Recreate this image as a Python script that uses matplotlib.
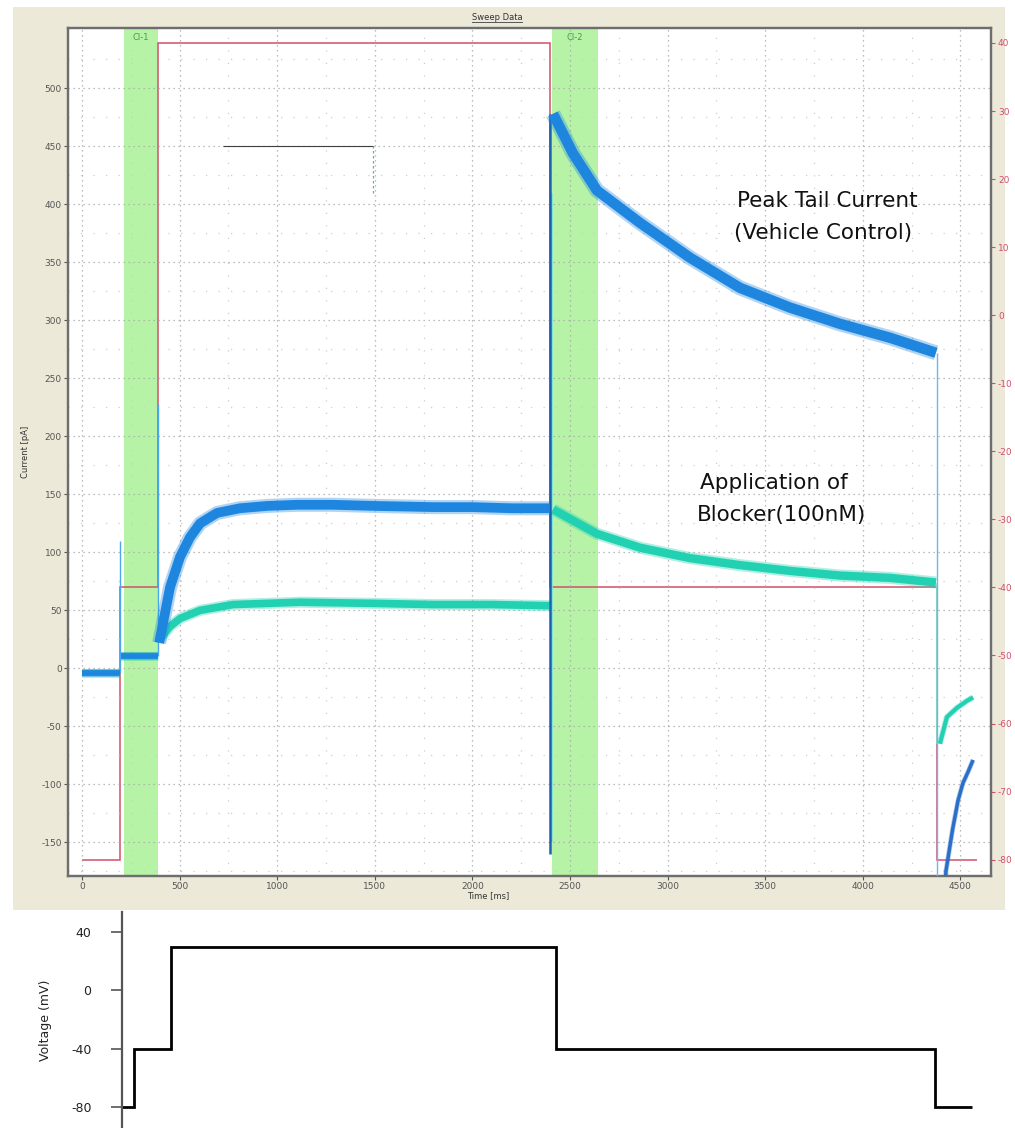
import matplotlib
matplotlib.use("Agg")
import matplotlib.pyplot as plt
from matplotlib.patches import Rectangle
from matplotlib.lines import Line2D

plt.rcParams["axes.unicode_minus"] = False

# ---------------- data ----------------
# command protocol (ms / mV) shown on the right axis
step_edges_ms = [0, 195, 390, 2400, 4380, 4585]
step_levels_mV = [-80, -40, 40, -40, -80]

# cursor windows
cursor_names = ["Cl-1", "Cl-2"]
cursor_start_ms = [215, 2408]
cursor_end_ms = [389, 2643]

# vehicle control current (pA)
veh_pre_t = [0, 195]
veh_pre = [-4, -4]
veh_step_t = [197, 390]
veh_step = [11, 11]
veh_act_t = [395, 451, 502, 553, 605, 692, 809, 948, 1100, 1286, 1500, 1798, 2000, 2200, 2395]
veh_act = [22, 70, 96, 113, 125, 134, 138, 140, 141, 141, 140, 139, 139, 138, 138]
veh_tail_t = [2413, 2515, 2638, 2859, 3115, 3371, 3627, 3883, 4139, 4375]
veh_tail = [478, 444, 412, 384, 354, 328, 311, 297, 285, 272]
veh_post_t = [4390, 4426, 4460, 4488, 4513, 4540, 4565]
veh_post = [-330, -175, -139, -114, -99, -89, -79]
veh_spike_t = [195, 390, 2400, 4380]
veh_spike_lo = [-4, 11, -160, -330]
veh_spike_hi = [110, 228, 478, 272]

# blocker (100 nM) current (pA)
blk_act_t = [395, 450, 502, 605, 774, 1117, 1500, 1798, 2100, 2395]
blk_act = [24, 36, 43, 50, 55, 57, 56, 55, 55, 54]
blk_tail_t = [2413, 2638, 2859, 3115, 3371, 3627, 3883, 4139, 4375]
blk_tail = [137, 116, 104, 95, 89, 84, 80, 78, 74]
blk_post_t = [4395, 4431, 4483, 4534, 4565]
blk_post = [-65, -42, -34, -28, -25]
blk_spike_t = [2410, 4382]
blk_spike_lo = [-150, -65]
blk_spike_hi = [410, 74]

# measurement cursor line
cursor_line_ms = [720, 1490]
cursor_line_pA = 450
cursor_drop_pA = [450, 410]

# schematic voltage protocol (lower panel)
proto_edges_ms = [132, 195, 390, 2400, 4380, 4575]
proto_levels_mV = [-80, -40, 30, -40, -80]
proto_ticks = [40, 0, -40, -80]

x_ticks = list(range(0, 5000, 500))
y_ticks = list(range(-150, 550, 50))
r_ticks = list(range(-80, 50, 10))

# ---------------- figure ----------------
W, H = 1015, 1128
fig = plt.figure(figsize=(W / 100, H / 100), dpi=100)
fig.patch.set_facecolor("white")
fig.patches.append(Rectangle((13 / W, 1 - 910 / H), 992 / W, 903 / H,
                             transform=fig.transFigure, facecolor="#ECE9D8",
                             edgecolor="none", zorder=-5))

BLUE = "#1f86e0"
TEAL = "#22d1b1"
RED = "#d2506a"
GREEN = "#b6f3a6"

ax = fig.add_axes([68 / W, (H - 876) / H, 923 / W, 848 / H])
axr = ax.twinx()
ax.set_zorder(axr.get_zorder() + 1)
ax.patch.set_visible(False)
axr.patch.set_visible(True)
axr.patch.set_facecolor("white")

# cursor windows and command voltage (behind the traces)
for name, a, b in zip(cursor_names, cursor_start_ms, cursor_end_ms):
    axr.axvspan(a, b, color=GREEN, lw=0, zorder=1)
    axr.text((a + b) / 2, 41.5, name, ha="center", va="top", fontsize=6,
             color="#4a9a4a", zorder=2)
axr.stairs(step_levels_mV, step_edges_ms, baseline=None, color=RED, lw=1.1, zorder=3)

# grid
ax.set_xticks(x_ticks)
ax.set_yticks(y_ticks)
ax.set_xticks(list(range(-250, 4700, 250)), minor=True)
ax.set_yticks(list(range(-175, 550, 25)), minor=True)
ax.grid(which="major", color="#a8a8a8", linestyle=(0, (1, 3)), lw=0.9)
ax.grid(which="minor", color="#cccccc", linestyle=(0, (1, 9)), lw=0.9)
ax.tick_params(which="minor", length=0)


def trace(t, y, color, lw, z):
    """Draw a recorded sweep as a band with a soft, noisy-looking edge."""
    kw = dict(solid_capstyle="butt", solid_joinstyle="round", zorder=z)
    ax.plot(t, y, color=color, lw=lw * 1.45, alpha=0.35, **kw)
    ax.plot(t, y, color=color, lw=lw, **kw)


# traces: blocker first, vehicle on top
ax.vlines(blk_spike_t, blk_spike_lo, blk_spike_hi, color="#7fe3cf", lw=1.2, zorder=4)
trace(veh_pre_t, veh_pre, TEAL, 4.5, 4)
trace(veh_step_t, veh_step, TEAL, 4.5, 4)
trace(blk_act_t, blk_act, TEAL, 5.5, 4)
trace(blk_tail_t, blk_tail, TEAL, 6.0, 4)
trace(blk_post_t, blk_post, TEAL, 3.0, 4)

ax.vlines(veh_spike_t[:2], veh_spike_lo[:2], veh_spike_hi[:2], color="#4aa6f0", lw=1.0, zorder=5)
ax.vlines(veh_spike_t[2:], veh_spike_lo[2:], veh_spike_hi[2:], color=["#1a5fb0", "#6ab8f0"],
          lw=[1.8, 1.0], zorder=5)
trace(veh_pre_t, veh_pre, BLUE, 4.0, 5)
trace(veh_step_t, veh_step, BLUE, 4.0, 5)
trace(veh_act_t, veh_act, BLUE, 7.0, 5)
trace(veh_tail_t, veh_tail, BLUE, 7.5, 5)
trace(veh_post_t, veh_post, "#2a6fc8", 2.5, 5)

# measurement cursor
ax.hlines(cursor_line_pA, cursor_line_ms[0], cursor_line_ms[1], color="#404040", lw=0.8, zorder=6)
ax.vlines(cursor_line_ms[1], cursor_drop_pA[1], cursor_drop_pA[0], color="#5fb0a0",
          lw=0.9, linestyle=(0, (2, 2)), zorder=6)

# annotations
tkw = dict(fontsize=15.5, color="#111111", ha="left", va="center", zorder=7)
ax.text(3355, 403, "Peak Tail Current", **tkw)
ax.text(3340, 375, "(Vehicle Control)", **tkw)
ax.text(3165, 160, "Application of", **tkw)
ax.text(3150, 132, "Blocker(100nM)", **tkw)

# axes styling
for a in (ax, axr):
    for s in a.spines.values():
        s.set_color("#6e6e6e")
        s.set_linewidth(1.6)
ax.tick_params(axis="both", which="major", labelsize=6.5, colors="#555555",
               length=3, width=0.8, pad=1.5)
axr.set_yticks(r_ticks)
axr.tick_params(axis="y", labelsize=6.5, colors=RED, length=3, width=0.8, pad=2)
ax.set_ylabel("Current [pA]", fontsize=6, color="#333333")
ax.yaxis.set_label_coords(-0.041, 0.5)
ax.set_xlabel("Time [ms]", fontsize=6, color="#333333")
ax.xaxis.set_label_coords(0.455, -0.0175)

# limits last so the shared x axis is not rescaled by the twin's artists
ax.set_xlim(-72, 4657)
ax.set_ylim(-179, 552)
axr.set_ylim(-82.4, 42.2)

# panel title
fig.text(497 / W, 1 - 17 / H, "Sweep Data", fontsize=6, color="#333333",
         ha="center", va="center")
fig.lines.append(Line2D([472 / W, 522 / W], [1 - 22 / H, 1 - 22 / H],
                        transform=fig.transFigure, color="#555555", lw=0.7))

# ---------------- lower panel: voltage protocol ----------------
axp = fig.add_axes([122 / W, 0.0, (W - 122) / W, (H - 912) / H])
axp.stairs(proto_levels_mV, proto_edges_ms, baseline=None, color="black", lw=2.0)
for side in ("top", "right", "bottom"):
    axp.spines[side].set_visible(False)
axp.spines["left"].set_color("#555555")
axp.spines["left"].set_linewidth(1.6)
axp.set_xticks([])
axp.set_yticks(proto_ticks)
axp.tick_params(axis="y", direction="out", length=8, width=1.2, colors="#555555",
                labelsize=9, labelcolor="#222222", pad=14)
axp.set_ylabel("Voltage (mV)", fontsize=9, color="#222222", labelpad=14)
axp.patch.set_visible(False)
axp.set_xlim(132, 4798)
axp.set_ylim(-94.4, 53.7)

fig.savefig("out.png", dpi=100)
